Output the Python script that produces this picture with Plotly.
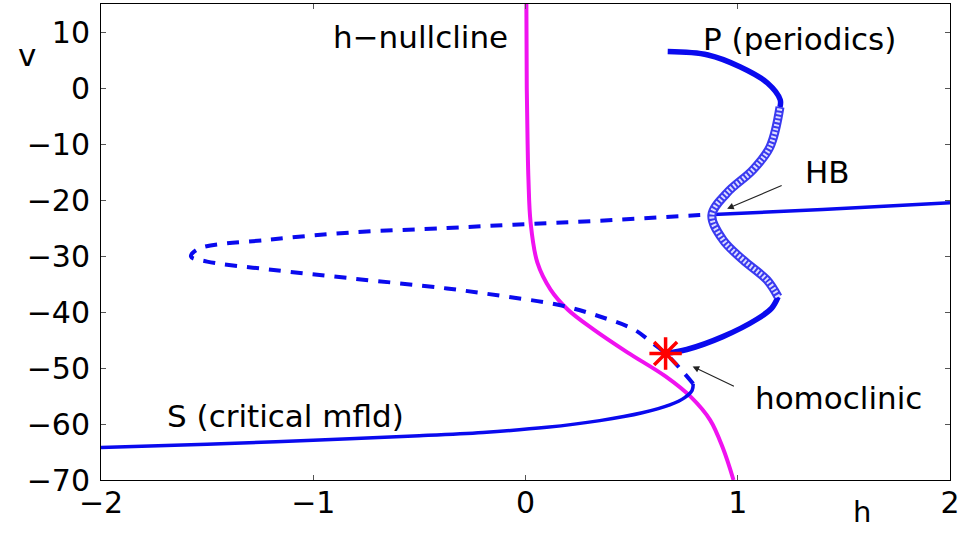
import plotly.graph_objects as go

# h-nullcline (h as a function of v)
null_h = [0.004, 0.006, 0.010, 0.014, 0.024, 0.056, 0.118, 0.20, 0.32, 0.48, 0.66, 0.78, 0.87, 0.93, 0.98]
null_v = [16.0, 0.0, -10.0, -16.4, -24.0, -31.2, -36.0, -39.6, -43.1, -47.2, -51.5, -55.2, -59.3, -64.3, -70.0]

# critical manifold S: stable lower sheet
s_low_h = [-2.0, -1.5, -1.0, -0.5, -0.2, 0.1, 0.35, 0.55, 0.68, 0.75, 0.785, 0.79]
s_low_v = [-64.2, -63.6, -62.9, -62.1, -61.5, -60.6, -59.4, -58.0, -56.6, -55.3, -54.0, -52.8]

# critical manifold S: unstable middle branch (fold to fold to Hopf point)
s_mid_h = [0.79, 0.74, 0.66, 0.59, 0.51, 0.35, 0.165, -0.10, -0.37, -0.82, -1.21, -1.50, -1.576,
           -1.54, -1.21, -0.82, -0.37, -0.056, 0.35, 0.82, 0.885]
s_mid_v = [-52.8, -50.6, -47.4, -45.3, -43.1, -40.8, -38.8, -37.2, -35.8, -34.0, -32.4, -31.0, -30.1,
           -28.7, -27.1, -25.8, -25.0, -24.4, -23.7, -22.7, -22.6]

# critical manifold S: stable upper branch beyond the Hopf point
s_up_h = [0.885, 1.4, 2.0]
s_up_v = [-22.6, -21.7, -20.5]

# periodic orbits P (extremes of v), stable lower part from the homoclinic point
p_low_h = [0.66, 0.76, 0.93, 1.09, 1.16, 1.19]
p_low_v = [-47.4, -46.7, -44.4, -41.3, -39.3, -37.3]

# periodic orbits P, unstable part through the Hopf point
p_mid_h = [1.19, 1.138, 1.025, 0.93, 0.878, 0.949, 1.072, 1.152, 1.199]
p_mid_v = [-37.3, -34.3, -30.7, -27.1, -22.7, -18.75, -14.6, -10.5, -3.4]

# periodic orbits P, stable upper part
p_top_h = [1.199, 1.20, 1.14, 1.01, 0.86, 0.67]
p_top_v = [-3.4, -2.1, 0.9, 3.8, 5.9, 6.5]

# homoclinic point
homo_h = [0.66]
homo_v = [-47.4]

x_ticks = [-2, -1, 0, 1, 2]
y_ticks = [-70, -60, -50, -40, -30, -20, -10, 0, 10]

BLUE = "#0a0aee"
MAGENTA = "#f012f0"
FONT = "DejaVu Sans"

fig = go.Figure()

fig.add_trace(go.Scatter(x=null_h, y=null_v, mode="lines",
                         line=dict(color=MAGENTA, width=4, shape="spline", smoothing=1.0)))
fig.add_trace(go.Scatter(x=s_low_h, y=s_low_v, mode="lines",
                         line=dict(color=BLUE, width=3.5, shape="spline", smoothing=1.0)))
fig.add_trace(go.Scatter(x=s_mid_h, y=s_mid_v, mode="lines",
                         line=dict(color=BLUE, width=4, dash="12px,10px", shape="spline", smoothing=1.0)))
fig.add_trace(go.Scatter(x=s_up_h, y=s_up_v, mode="lines",
                         line=dict(color=BLUE, width=3.5, shape="spline")))
fig.add_trace(go.Scatter(x=p_low_h, y=p_low_v, mode="lines",
                         line=dict(color=BLUE, width=5.5, shape="spline", smoothing=1.0)))
fig.add_trace(go.Scatter(x=p_top_h, y=p_top_v, mode="lines",
                         line=dict(color=BLUE, width=5.5, shape="spline", smoothing=1.0)))
# unstable periodic branch drawn as a ringed band
fig.add_trace(go.Scatter(x=p_mid_h, y=p_mid_v, mode="lines",
                         line=dict(color="#3a3af0", width=9, shape="spline", smoothing=1.0)))
fig.add_trace(go.Scatter(x=p_mid_h, y=p_mid_v, mode="lines",
                         line=dict(color="#dcdcff", width=5, dash="2px,2px", shape="spline", smoothing=1.0)))
fig.add_trace(go.Scatter(x=homo_h, y=homo_v, mode="markers",
                         marker=dict(symbol="asterisk-open", size=27, color="red",
                                     line=dict(color="red", width=3.5))))

txt = dict(family=FONT, size=31, color="black")
center = dict(xanchor="center", yanchor="middle", showarrow=False, font=txt)
annotations = [
    dict(x=-0.497, y=9.1, xref="x", yref="y", text="h\u2212nullcline", **center),
    dict(x=1.293, y=8.7, xref="x", yref="y", text="P (periodics)", **center),
    dict(x=1.425, y=-15.0, xref="x", yref="y", text="HB", **center),
    dict(x=1.477, y=-55.4, xref="x", yref="y", text="homoclinic", **center),
    dict(x=-1.131, y=-58.6, xref="x", yref="y", text="S (critical mfld)", **center),
    dict(x=-0.087, y=0.893, xref="paper", yref="paper", text="v", **center),
    dict(x=0.896, y=-0.105, xref="paper", yref="paper", text="h", xanchor="center", yanchor="bottom",
         showarrow=False, borderpad=0, font=dict(family=FONT, size=29, color="black")),
    # arrows
    dict(x=s_up_h[0], y=s_up_v[0], xref="x", yref="y", ax=1.214, ay=-17.3, axref="x", ayref="y",
         text="", showarrow=True, arrowhead=2, arrowsize=1.2, arrowwidth=1.1, arrowcolor="#222222",
         standoff=15),
    dict(x=homo_h[0], y=homo_v[0], xref="x", yref="y", ax=0.989, ay=-53.4, axref="x", ayref="y",
         text="", showarrow=True, arrowhead=2, arrowsize=1.2, arrowwidth=1.1, arrowcolor="#222222",
         standoff=30),
]

axis_common = dict(showgrid=False, zeroline=False, showline=True, linecolor="black", linewidth=1,
                   mirror="ticks", ticks="inside", ticklen=5, tickcolor="#555555",
                   tickfont=dict(family=FONT, size=30, color="black"))

fig.update_layout(
    width=963, height=533,
    margin=dict(l=101, r=13, t=4, b=53),
    paper_bgcolor="white", plot_bgcolor="white",
    showlegend=False,
    annotations=annotations,
    xaxis=dict(range=[-2, 2], tickvals=x_ticks, ticklabelstandoff=-4, **axis_common),
    yaxis=dict(range=[-70, 15], tickvals=y_ticks, ticklabelstandoff=4, **axis_common),
)

fig.write_html("out.html")
